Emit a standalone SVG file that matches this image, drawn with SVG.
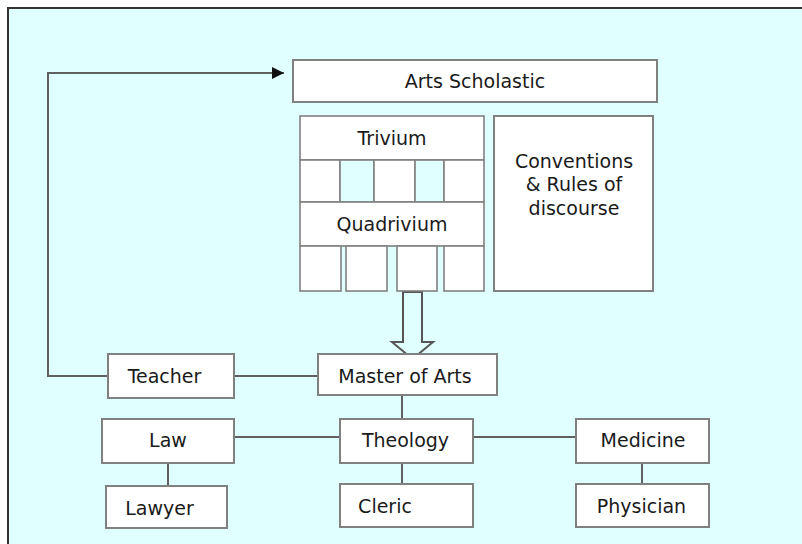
<svg xmlns="http://www.w3.org/2000/svg" width="802" height="544" viewBox="0 0 802 544">
<defs>
<style>
.box{fill:#ffffff;stroke:#808080;stroke-width:2}
.cell{fill:#ffffff;stroke:#808080;stroke-width:1.6}
.cy{fill:#e0ffff;stroke:#808080;stroke-width:1.6}
.t{font-family:"DejaVu Sans",Verdana,sans-serif;font-size:19px;fill:#1a1a1a;text-anchor:middle}
.ln{stroke:#606060;stroke-width:2;fill:none}
</style>
<marker id="ah" viewBox="0 0 10 10" refX="10" refY="5" markerWidth="12" markerHeight="12" markerUnits="userSpaceOnUse" orient="auto">
<path d="M0,0 L10,5 L0,10 z" fill="#111"/>
</marker>
</defs>
<rect x="0" y="0" width="802" height="544" fill="#ffffff"/>
<rect x="8" y="8" width="820" height="560" fill="#e0ffff" stroke="#333333" stroke-width="2"/>

<g id="connectors">
<polyline class="ln" points="108,376 48,376 48,73 284,73" marker-end="url(#ah)"/>
<line class="ln" x1="234" y1="376" x2="318" y2="376"/>
<line class="ln" x1="402" y1="395" x2="402" y2="419"/>
<line class="ln" x1="234" y1="437" x2="340" y2="437"/>
<line class="ln" x1="473" y1="437" x2="576" y2="437"/>
<line class="ln" x1="168" y1="463" x2="168" y2="486"/>
<line class="ln" x1="402" y1="463" x2="402" y2="484"/>
<line class="ln" x1="642" y1="463" x2="642" y2="484"/>
<polygon points="403,292 422,292 422,342 433,342 412.5,359 392,342 403,342" fill="#e0ffff" stroke="#555555" stroke-width="2" stroke-linejoin="miter"/>
</g>

<g id="arts-scholastic">
<rect class="box" x="293" y="60" width="364" height="42"/>
<text class="t" x="475" y="88">Arts Scholastic</text>
</g>

<g id="trivium">
<rect class="cell" x="300" y="116" width="184" height="44"/>
<text class="t" x="392" y="145">Trivium</text>
</g>
<g id="trivium-cells">
<rect class="cell" x="300" y="160" width="40" height="42"/>
<rect class="cy" x="340" y="160" width="34" height="42"/>
<rect class="cell" x="374" y="160" width="41" height="42"/>
<rect class="cy" x="415" y="160" width="29" height="42"/>
<rect class="cell" x="444" y="160" width="40" height="42"/>
</g>
<g id="quadrivium">
<rect class="cell" x="300" y="202" width="184" height="44"/>
<text class="t" x="392" y="231">Quadrivium</text>
</g>
<g id="quadrivium-cells">
<rect class="cell" x="300" y="246" width="41" height="45"/>
<rect class="cell" x="346" y="246" width="41" height="45"/>
<rect class="cell" x="397" y="246" width="40" height="45"/>
<rect class="cell" x="444" y="246" width="40" height="45"/>
</g>

<g id="conventions">
<rect class="box" x="494" y="116" width="159" height="175"/>
<text class="t" x="574" y="168">Conventions</text>
<text class="t" x="574" y="191">&amp; Rules of</text>
<text class="t" x="574" y="215">discourse</text>
</g>

<g id="teacher">
<rect class="box" x="108" y="354" width="126" height="44"/>
<text class="t" x="164.5" y="383">Teacher</text>
</g>
<g id="master-of-arts">
<rect class="box" x="318" y="354" width="179" height="41"/>
<text class="t" x="405" y="383">Master of Arts</text>
</g>

<g id="law">
<rect class="box" x="102" y="419" width="132" height="44"/>
<text class="t" x="168" y="447">Law</text>
</g>
<g id="theology">
<rect class="box" x="340" y="419" width="133" height="44"/>
<text class="t" x="405.5" y="447">Theology</text>
</g>
<g id="medicine">
<rect class="box" x="576" y="419" width="133" height="44"/>
<text class="t" x="643" y="447">Medicine</text>
</g>

<g id="lawyer">
<rect class="box" x="106" y="486" width="121" height="42"/>
<text class="t" x="159.5" y="515">Lawyer</text>
</g>
<g id="cleric">
<rect class="box" x="340" y="484" width="133" height="43"/>
<text class="t" x="385" y="513">Cleric</text>
</g>
<g id="physician">
<rect class="box" x="576" y="484" width="133" height="43"/>
<text class="t" x="641.5" y="513">Physician</text>
</g>
</svg>
